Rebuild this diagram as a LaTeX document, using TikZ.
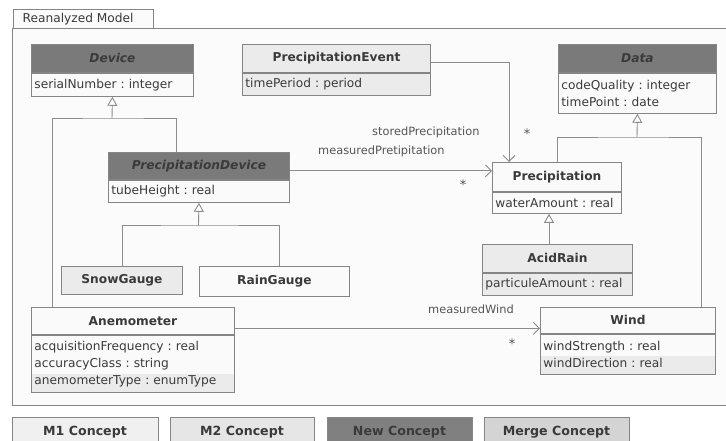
\documentclass[tikz,border=0pt]{standalone}
\usepackage{fontspec}
\setmainfont{DejaVu Sans}
\usetikzlibrary{arrows.meta}
\frenchspacing
\definecolor{bordc}{HTML}{858585}
\definecolor{linec}{HTML}{8C8C8C}
\definecolor{darkc}{HTML}{7A7A7A}
\definecolor{lightc}{HTML}{EBEBEB}
\definecolor{whitec}{HTML}{FAFAFA}
\definecolor{framec}{HTML}{FBFBFB}
\definecolor{txtc}{HTML}{3A3A3A}
\definecolor{lbl}{HTML}{555555}
\definecolor{mone}{HTML}{F0F0F0}
\definecolor{mtwo}{HTML}{E6E6E6}
\definecolor{mrg}{HTML}{D4D4D4}
\definecolor{newc}{HTML}{808080}
\newcommand{\bodyf}{\fontsize{12.2}{17}\selectfont}
\newcommand{\lblf}{\fontsize{11.4}{14}\selectfont}
\begin{document}
\begin{tikzpicture}[x=1pt,y=-1pt,
  box/.style={draw=bordc, line width=0.9pt, anchor=north west, inner sep=0pt, text=txtc},
  hdr/.style={box, font=\bodyf\bfseries},
  hdri/.style={box, fill=darkc, font=\bodyf\bfseries\itshape},
  att/.style={box, font=\bodyf, align=left, inner xsep=3pt, text width=#1},
  line/.style={draw=linec, line width=0.9pt},
  gen/.style={line, -{Triangle[length=9pt,width=10pt,fill=white]}},
  assoc/.style={line, -{Straight Barb[length=6pt,width=12pt]}},
  lab/.style={font=\lblf, text=lbl, inner sep=0pt},
  star/.style={font=\fontsize{13}{14}\selectfont, text=lbl, inner sep=0pt},
  leg/.style={draw=bordc, line width=0.9pt, anchor=north west, inner sep=0pt, font=\bodyf\bfseries, text=txtc},
  legt/.style={inner sep=0pt, font=\fontsize{12.6}{15}\selectfont\bfseries, text=txtc}
]
\useasboundingbox (0,0) rectangle (726,441);
\fill[white] (0,0) rectangle (726,441);
% frame
\draw[draw=bordc, line width=0.9pt, fill=framec] (12.5,405) -- (12.5,28) -- (740,28) -- (740,405) -- cycle;
\node[box, fill=framec, minimum width=140pt, minimum height=19pt] (tab) at (12.5,9) {};
\node[lab, font=\bodyf, text=txtc, anchor=west] (tabt) at ([xshift=10pt]tab.west) {Reanalyzed Model};

% Device
\node[hdri, minimum width=162pt, minimum height=28pt] (devH) at (31,44) {Device};
\node[att=156pt, fill=whitec, minimum width=162pt, minimum height=23pt] (devA) at (devH.south west) {serialNumber : integer};

% PrecipitationEvent
\node[hdr, fill=lightc, minimum width=188pt, minimum height=28pt] (peH) at (242,44) {PrecipitationEvent};
\node[att=182pt, fill=lightc, minimum width=188pt, minimum height=22pt] (peA) at (peH.south west) {timePeriod : period};

% Data
\node[hdri, minimum width=158pt, minimum height=28pt] (dataH) at (558,44) {Data};
\node[att=152pt, fill=whitec, minimum width=158pt, minimum height=40pt] (dataA) at (dataH.south west) {codeQuality : integer\\timePoint : date};

% PrecipitationDevice
\node[hdri, minimum width=181pt, minimum height=27pt] (pdH) at (108,152) {PrecipitationDevice};
\node[att=175pt, fill=whitec, minimum width=181pt, minimum height=22pt] (pdA) at (pdH.south west) {tubeHeight : real};

% Precipitation
\node[hdr, fill=whitec, minimum width=129pt, minimum height=29pt] (precH) at (492,162) {Precipitation};
\node[att=123pt, fill=whitec, minimum width=129pt, minimum height=21pt] (precA) at (precH.south west) {waterAmount : real};

% SnowGauge, RainGauge
\node[hdr, fill=lightc, minimum width=121pt, minimum height=28pt] (snow) at (61,266) {SnowGauge};
\node[hdr, fill=whitec, minimum width=150pt, minimum height=30pt] (rain) at (199,266) {RainGauge};

% AcidRain
\node[hdr, fill=lightc, minimum width=150pt, minimum height=28pt] (arH) at (482,244) {AcidRain};
\node[att=144pt, fill=lightc, minimum width=150pt, minimum height=22pt] (arA) at (arH.south west) {particuleAmount : real};

% Anemometer
\node[hdr, fill=whitec, minimum width=203pt, minimum height=27pt] (anemH) at (31,307) {Anemometer};
\node[att=197pt, fill=whitec, minimum width=203pt, minimum height=57pt,
  path picture={\fill[lightc] ([yshift=18pt]path picture bounding box.south west) rectangle (path picture bounding box.south east);}]
  (anemA) at (anemH.south west) {acquisitionFrequency : real\\accuracyClass : string\\anemometerType : enumType};

% Wind
\node[hdr, fill=whitec, minimum width=175pt, minimum height=26pt] (windH) at (540,307) {Wind};
\node[att=169pt, fill=whitec, minimum width=175pt, minimum height=40pt,
  path picture={\fill[lightc] ([yshift=18pt]path picture bounding box.south west) rectangle (path picture bounding box.south east);}]
  (windA) at (windH.south west) {windStrength : real\\windDirection : real};

% generalizations
\coordinate (gDev) at (112,118);
\draw[line] ([xshift=21pt]anemH.north west) |- (gDev) -| ([xshift=68pt]pdH.north west);
\draw[gen] (gDev) -- (devA.south);

\coordinate (gPD) at (198.5,225);
\draw[line] (snow.north) |- (gPD) -| ([xshift=80pt]rain.north west);
\draw[gen] (gPD) -- (pdA.south);

\coordinate (gData) at (637,137);
\draw[line] ([xshift=65pt]precH.north west) |- (gData) -| ([xshift=161pt]windH.north west);
\draw[gen] (gData) -- (dataA.south);

\draw[gen] ([xshift=67pt]arH.north west) -- ([xshift=57pt]precA.south west);

% associations
\draw[assoc] ([yshift=-4pt]peH.east) -| ([xshift=17pt]precH.north west);
\draw[assoc] ([yshift=-5pt]pdH.east) -- ([yshift=-5pt]pdH.east -| precH.west);
\draw[assoc] ([yshift=-7.5pt]anemH.east) -- ([yshift=-7.5pt]anemH.east -| windH.west);

% labels
\node[lab, anchor=west] (l1) at (372,132) {storedPrecipitation};
\node[lab, anchor=west] (l2) at (318,151) {measuredPretipitation};
\node[lab, anchor=west] (l3) at (428,309) {measuredWind};
\node[star] (s1) at (527,134) {*};
\node[star] (s2) at (463,185) {*};
\node[star] (s3) at (512,344) {*};

% legend
\node[leg, fill=mone, minimum width=146pt, minimum height=34pt] (lg1) at (12,417) {};
\node[leg, fill=mtwo, minimum width=144pt, minimum height=34pt] (lg2) at (170,417) {};
\node[leg, fill=newc, minimum width=145pt, minimum height=34pt] (lg3) at (327,417) {};
\node[leg, fill=mrg, minimum width=145pt, minimum height=34pt] (lg4) at (484,417) {};
\node[legt] (lt1) at (85,432) {M1 Concept};
\node[legt] (lt2) at (242,432) {M2 Concept};
\node[legt] (lt3) at (399.5,432) {New Concept};
\node[legt] (lt4) at (556.5,432) {Merge Concept};
\end{tikzpicture}
\end{document}
